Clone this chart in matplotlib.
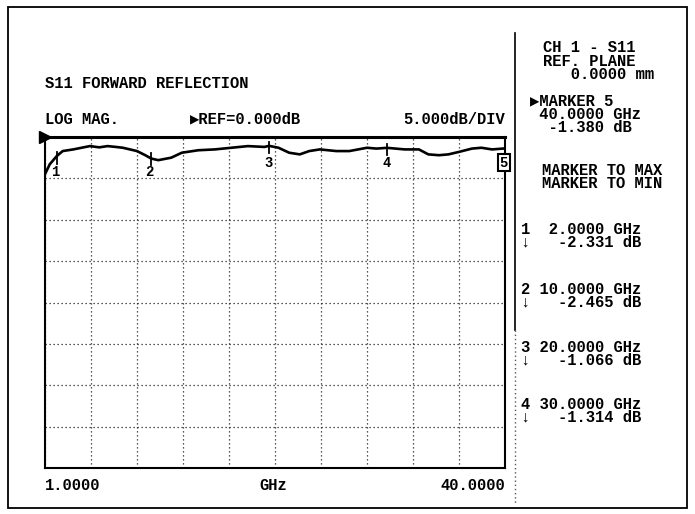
import numpy as np
import matplotlib
matplotlib.use("Agg")
import matplotlib.pyplot as plt
from matplotlib.patches import Rectangle
from matplotlib.lines import Line2D

# ---------------- data ----------------
freq_ghz = [1.0, 1.4, 2.0, 2.5, 3.4, 4.8, 5.6, 6.3, 7.0, 7.6, 8.8, 9.5, 10.0,
            10.6, 11.7, 12.6, 14.0, 15.4, 16.8, 18.2, 19.6, 20.0, 20.8, 21.7,
            22.6, 23.4, 24.3, 25.7, 26.8, 28.3, 29.1, 30.0, 31.5, 32.7, 33.5,
            34.4, 35.2, 36.1, 37.2, 38.0, 38.9, 40.0]
s11_db = [-4.5, -3.3, -2.3, -1.7, -1.5, -1.1, -1.25, -1.1, -1.2, -1.3, -1.7,
          -2.2, -2.6, -2.8, -2.5, -1.9, -1.6, -1.5, -1.3, -1.1, -1.2, -1.07,
          -1.3, -1.9, -2.1, -1.7, -1.5, -1.7, -1.7, -1.3, -1.4, -1.31, -1.5,
          -1.5, -2.1, -2.2, -2.1, -1.8, -1.4, -1.3, -1.5, -1.38]

marker_ids = ["1", "2", "3", "4", "5"]
marker_freq = [2.0, 10.0, 20.0, 30.0, 40.0]
marker_db = [-2.331, -2.465, -1.066, -1.314, -1.380]
marker_freq_text = ["2.0000", "10.0000", "20.0000", "30.0000", "40.0000"]
marker_db_text = ["-2.331", "-2.465", "-1.066", "-1.314", "-1.380"]

x_start, x_stop = 1.0, 40.0
ref_db, db_per_div, n_ydiv, n_xdiv = 0.0, 5.0, 8, 10

W, H = 695, 514
fig = plt.figure(figsize=(W / 100, H / 100), dpi=100)
fig.patch.set_facecolor("white")

FONT = ["Liberation Mono", "DejaVu Sans Mono", "DejaVu Sans"]
FS = 11.2
LS = 0.87
PITCH = 13


def fx(x):
    return x / W


def fy(y):
    return 1 - y / H


def txt(x, y, s, ha="left", fs=FS, **kw):
    fig.text(fx(x), fy(y), s, ha=ha, va="center", family=FONT,
             fontsize=fs, fontweight="bold", color="black", **kw)


def block(x, y_first_center, s):
    n = s.count("\n")
    y_last_base = y_first_center + 5 + PITCH * n
    fig.text(fx(x), fy(y_last_base), s, ha="left", va="baseline", family=FONT,
             fontsize=FS, fontweight="bold", color="black",
             linespacing=LS, multialignment="left")


# outer border
fig.add_artist(Rectangle((fx(8), fy(508)), fx(687) - fx(8), fy(7) - fy(508),
                         transform=fig.transFigure, fill=False,
                         edgecolor="black", lw=1.3))
# divider line
fig.add_artist(Line2D([fx(515), fx(515)], [fy(33), fy(330)],
                      transform=fig.transFigure, color="black", lw=1.2))
fig.add_artist(Line2D([fx(515), fx(515)], [fy(330), fy(505)],
                      transform=fig.transFigure, color="#555555", lw=1.0,
                      linestyle=(0, (1, 2))))

# axes
L, R, T, B = 45, 505, 137, 468
ax = fig.add_axes([fx(L), fy(B), fx(R) - fx(L), fy(T) - fy(B)])
ax.set_xlim(x_start, x_stop)
ax.set_ylim(ref_db - n_ydiv * db_per_div, ref_db)
ax.set_xticks(np.linspace(x_start, x_stop, n_xdiv + 1))
ax.set_yticks(np.arange(ref_db - n_ydiv * db_per_div, ref_db + 0.1, db_per_div))
ax.tick_params(length=0, labelbottom=False, labelleft=False)
ax.grid(True, color="#222222", lw=0.9, linestyle=(0, (1, 2.2)))
for s in ["left", "bottom", "right"]:
    ax.spines[s].set_linewidth(1.5)
ax.spines["top"].set_linewidth(2.2)

ax.plot(freq_ghz, s11_db, color="black", lw=1.9, solid_joinstyle="round")

# reference triangle at top-left
ax.plot([x_start], [ref_db], marker=">", color="black", markersize=8,
        clip_on=False)

# marker ticks and labels
for mid, f, d in zip(marker_ids, marker_freq, marker_db):
    if mid != "5":
        ax.plot([f, f], [d + 0.5, d - 0.9], color="black", lw=1.3)
    if mid in ("1", "2"):
        ax.text(f - 0.15, -4.2, mid, ha="center", va="center", family=FONT,
                fontsize=10, fontweight="bold")
    elif mid in ("3", "4"):
        ax.text(f, -3.1, mid, ha="center", va="center", family=FONT,
                fontsize=10, fontweight="bold")
    else:
        ax.text(f - 0.1, -3.1, mid, ha="center", va="center", family=FONT,
                fontsize=10, fontweight="bold", clip_on=False,
                bbox=dict(boxstyle="square,pad=0.12", fc="white", ec="black",
                          lw=1.5))

# header texts
txt(45, 84, "S11 FORWARD REFLECTION")
txt(45, 119, "LOG MAG.")
txt(190, 119, "\u25b6REF=0.000dB")
txt(505, 119, "5.000dB/DIV", ha="right")

# bottom labels
txt(45, 485, "1.0000")
txt(273, 485, "GHz", ha="center")
txt(505, 485, "40.0000", ha="right")

# right panel
block(543, 48, "CH 1 - S11\nREF. PLANE\n   0.0000 mm")
block(530, 101, "\u25b6MARKER 5\n %s GHz\n  %s dB" % (marker_freq_text[4],
                                                    marker_db_text[4]))
block(542, 170, "MARKER TO MAX\nMARKER TO MIN")

row_y = [229, 289, 347, 404]
for i in range(4):
    f_txt = marker_freq_text[i].rjust(7)
    block(521, row_y[i], "%s %s GHz\n\u2193   %s dB" % (marker_ids[i], f_txt,
                                                     marker_db_text[i]))

fig.savefig("out.png", dpi=100, facecolor="white")
